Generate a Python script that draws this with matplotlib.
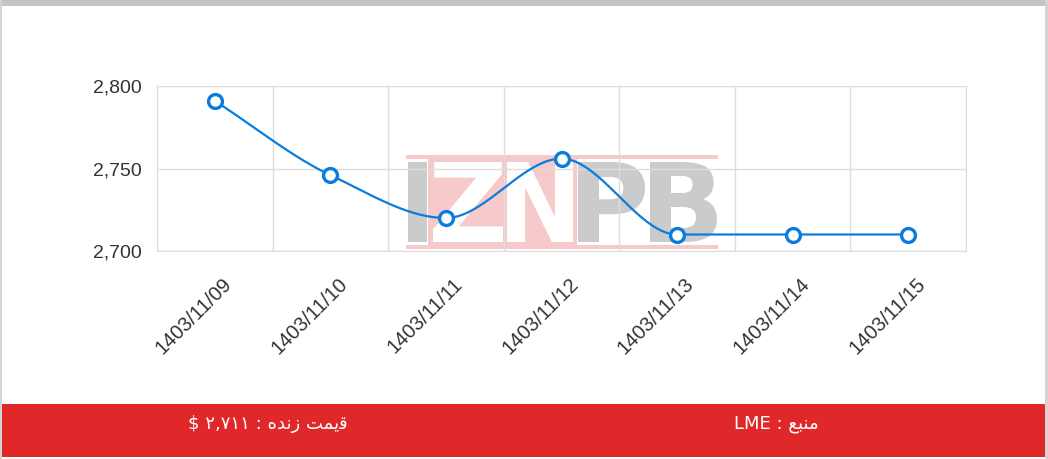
import matplotlib.pyplot as plt
import numpy as np
from matplotlib.patches import Rectangle, PathPatch
from matplotlib.textpath import TextPath
from matplotlib.font_manager import FontProperties
from matplotlib.transforms import Affine2D, ScaledTranslation

dates = ["1403/11/09", "1403/11/10", "1403/11/11", "1403/11/12",
         "1403/11/13", "1403/11/14", "1403/11/15"]
prices = [2791, 2746, 2720, 2756, 2710, 2710, 2710]
y_ticks = [2700, 2750, 2800]

# shaped Persian texts (visual order, presentation forms)
live_label = "$ \u06f2,\u06f7\u06f1\u06f1 : \ufee9\ufeaa\ufee7\ufeaf \ufe96\ufee4\ufbfe\ufed7"
source_label = "LME : \ufeca\ufe92\ufee8\ufee3"

BLUE = "#0a7ddc"
RED = "#e0282a"


def monotone_curve(x, y, n=40):
    # Fritsch-Carlson monotone cubic, like chart.js "monotone"
    x = np.asarray(x, float)
    y = np.asarray(y, float)
    h = np.diff(x)
    d = np.diff(y) / h
    m = np.zeros_like(y)
    m[0], m[-1] = d[0], d[-1]
    for i in range(1, len(y) - 1):
        if d[i - 1] * d[i] <= 0:
            m[i] = 0
        else:
            w1 = 2 * h[i] + h[i - 1]
            w2 = h[i] + 2 * h[i - 1]
            m[i] = (w1 + w2) / (w1 / d[i - 1] + w2 / d[i])
    xs, ys = [], []
    for i in range(len(x) - 1):
        t = np.linspace(0, 1, n)
        h00 = 2 * t**3 - 3 * t**2 + 1
        h10 = t**3 - 2 * t**2 + t
        h01 = -2 * t**3 + 3 * t**2
        h11 = t**3 - t**2
        xs.append(x[i] + t * h[i])
        ys.append(h00 * y[i] + h10 * h[i] * m[i] + h01 * y[i + 1] + h11 * h[i] * m[i + 1])
    return np.concatenate(xs), np.concatenate(ys)


def fit_text(ax, s, box, color):
    # letter stretched into a pixel box (x0, y0, x1, y1), y pointing down
    x0, y0, x1, y1 = box
    tp = TextPath((0, 0), s, size=100,
                  prop=FontProperties(family="DejaVu Sans", weight="bold"))
    ext = tp.get_extents()
    tr = (Affine2D().translate(-ext.x0, -ext.y0)
          .scale((x1 - x0) / ext.width, -(y1 - y0) / ext.height)
          .translate(x0, y1))
    ax.add_patch(PathPatch(tr.transform_path(tp), color=color, lw=0))


plt.rcParams['font.family'] = ['Liberation Sans', 'DejaVu Sans']

fig = plt.figure(figsize=(10.48, 4.59), dpi=100)

# background layer in pixel coordinates
bg = fig.add_axes([0, 0, 1, 1], zorder=-1)
bg.set_xlim(0, 1048)
bg.set_ylim(459, 0)
bg.axis("off")

# watermark
pink = "#f6c9ca"
gray = "#cbcbcb"
bg.add_patch(Rectangle((406, 155), 312, 4, color=pink, lw=0))
bg.add_patch(Rectangle((406, 245), 312, 4, color=pink, lw=0))
bg.add_patch(Rectangle((428, 159), 149, 86, color=pink, lw=0))
fit_text(bg, "I", (408, 162, 427, 242), gray)
fit_text(bg, "Z", (433, 162, 503, 242), "white")
fit_text(bg, "N", (507, 162, 573, 242), "white")
fit_text(bg, "P", (578, 162, 645, 242), gray)
fit_text(bg, "B", (650, 162, 717, 242), gray)

# footer bar and frame shading
bg.add_patch(Rectangle((2, 404), 1043, 53, color=RED, lw=0))
bg.add_patch(Rectangle((0, 0), 1048, 6, color="#c4c4c4", lw=0))
bg.add_patch(Rectangle((0, 0), 2, 459, color="#d4d4d4", lw=0))
bg.add_patch(Rectangle((1045, 0), 3, 459, color="#d4d4d4", lw=0))

ax = fig.add_axes([157 / 1048, 1 - 251 / 459, 809 / 1048, 165 / 459])
ax.patch.set_alpha(0)
x = np.arange(len(dates))
cx, cy = monotone_curve(x, prices)
ax.plot(cx, cy, color=BLUE, lw=1.6, zorder=3)
ax.plot(x, prices, "o", ms=10, mfc="white", mec=BLUE, mew=2.4, zorder=4)

ax.set_xlim(-0.5, len(dates) - 0.5)
ax.set_ylim(2700, 2800)
ax.set_yticks(y_ticks)
ax.set_yticklabels([f"{v:,}" for v in y_ticks])
ax.set_xticks(x)
ax.set_xticklabels(dates, rotation=45, ha="right", va="center", rotation_mode="anchor")
ax.set_xticks(np.arange(len(dates) + 1) - 0.5, minor=True)
ax.grid(True, which="minor", axis="x", color="#dddddd", lw=1)
ax.grid(True, which="major", axis="y", color="#dddddd", lw=1)
ax.tick_params(which="both", length=0)
ax.tick_params(axis="y", labelsize=14, labelcolor="#333333", pad=11)
ax.tick_params(axis="x", labelsize=14.5, labelcolor="#333333", pad=0)
shift = ScaledTranslation(0.14, -0.30, fig.dpi_scale_trans)
for lab in ax.get_xticklabels():
    lab.set_transform(lab.get_transform() + shift)
for s in ax.spines.values():
    s.set_color("#dddddd")

fig.text(268 / 1048, 1 - 424 / 459, live_label, color="white", fontsize=13,
         ha="center", va="center", family=["DejaVu Sans"])
fig.text(776 / 1048, 1 - 424 / 459, source_label, color="white", fontsize=13,
         ha="center", va="center", family=["DejaVu Sans"])

fig.savefig("out.png", dpi=100)
